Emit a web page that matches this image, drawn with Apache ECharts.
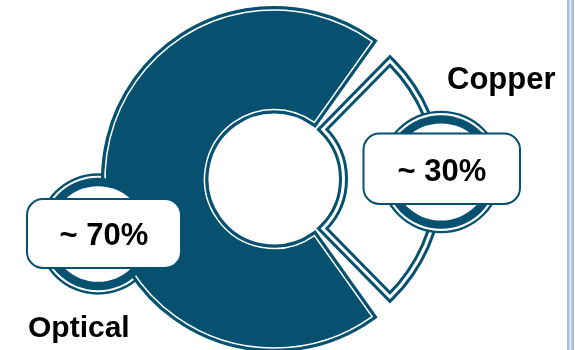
<!DOCTYPE html>
<html>
<head>
<meta charset="utf-8">
<script src="https://cdn.jsdelivr.net/npm/echarts@6/dist/echarts.min.js"></script>
<style>
  html, body { margin: 0; padding: 0; background: #ffffff; }
  #chart { width: 575px; height: 350px; }
</style>
</head>
<body>
<div id="chart"></div>
<script>
// ---- data ----
const categories = ['Optical', 'Copper'];
const shares = [70, 30];
const shareLabels = ['~ 70%', '~ 30%'];

// ---- styling ----
const DARK = '#05516f';
const CX = 274, CY = 179;
const FONT = '"Liberation Sans", Arial, sans-serif';
const CLEAR = 'rgba(0,0,0,0)';

const chart = echarts.init(document.getElementById('chart'), null, { renderer: 'canvas' });

function pieLayer(name, radius, pad, z, styleFor) {
  return {
    type: 'pie',
    name: name,
    center: [CX, CY],
    radius: radius,
    startAngle: 54,
    clockwise: false,
    padAngle: pad,
    z: z,
    silent: true,
    animation: false,
    label: { show: false },
    labelLine: { show: false },
    emphasis: { disabled: true, scale: false },
    data: categories.map((c, i) => ({
      name: c,
      value: shares[i],
      itemStyle: Object.assign({ borderJoin: 'miter', borderMiterLimit: 10 }, styleFor(i))
    }))
  };
}

const series = [
  // Optical slice: dark fill with a double outline
  pieLayer('optBase', [69.5, 169], 1, 2, i => i === 0
    ? { color: DARK, borderColor: DARK, borderWidth: 8 }
    : { color: CLEAR, borderWidth: 0 }),
  pieLayer('optLine', [69.5, 169], 1, 3, i => i === 0
    ? { color: CLEAR, borderColor: '#ffffff', borderWidth: 1.5 }
    : { color: CLEAR, borderWidth: 0 }),
  // Copper slice: white fill with a double outline
  pieLayer('copBase', [69.5, 165.5], 17, 2, i => i === 1
    ? { color: '#ffffff', borderColor: DARK, borderWidth: 9 }
    : { color: CLEAR, borderWidth: 0 }),
  pieLayer('copLine', [69.5, 165.5], 17, 3, i => i === 1
    ? { color: CLEAR, borderColor: '#ffffff', borderWidth: 3 }
    : { color: CLEAR, borderWidth: 0 })
];

function circ(cx, cy, r, fill, z) {
  return { type: 'circle', shape: { cx: cx, cy: cy, r: r }, style: { fill: fill }, z: z, silent: true };
}

const graphics = [
  // right frame line
  { type: 'rect', shape: { x: 567, y: 0, width: 7, height: 350 }, style: { fill: '#a9c0de' }, z: 1, silent: true },
  { type: 'rect', shape: { x: 569.3, y: 0, width: 2, height: 350 }, style: { fill: '#dde6f2' }, z: 1, silent: true },

  // Optical ring: outer double line under the slice, band above it
  circ(98, 234, 60.7, DARK, 0),
  circ(98, 234, 58.3, '#ffffff', 0),
  circ(98, 234, 56.3, DARK, 10),
  circ(98, 234, 47.8, '#ffffff', 10),

  // Copper ring (above copper slice)
  circ(441, 172, 61.3, DARK, 10),
  circ(441, 172, 59, '#ffffff', 10),
  circ(441, 172, 56.8, DARK, 10),
  circ(441, 172, 48.6, '#ffffff', 10),

  // Label boxes
  { type: 'rect', shape: { x: 27, y: 199, width: 154, height: 69, r: 16 },
    style: { fill: '#ffffff', stroke: DARK, lineWidth: 2 }, z: 20, silent: true },
  { type: 'rect', shape: { x: 363.5, y: 133.5, width: 156.5, height: 70.5, r: 16 },
    style: { fill: '#ffffff', stroke: DARK, lineWidth: 2 }, z: 20, silent: true },

  { type: 'text', x: 104, y: 236, z: 21, silent: true,
    style: { text: shareLabels[0], font: 'bold 31px ' + FONT, fill: '#000000', textAlign: 'center', textVerticalAlign: 'middle' } },
  { type: 'text', x: 442, y: 172, z: 21, silent: true,
    style: { text: shareLabels[1], font: 'bold 31px ' + FONT, fill: '#000000', textAlign: 'center', textVerticalAlign: 'middle' } },

  // Category names
  { type: 'text', x: 28, y: 329, z: 21, silent: true,
    style: { text: categories[0], font: 'bold 30px ' + FONT, fill: '#000000', textAlign: 'left', textVerticalAlign: 'middle' } },
  { type: 'text', x: 447, y: 80, z: 21, silent: true,
    style: { text: categories[1], font: 'bold 31px ' + FONT, fill: '#000000', textAlign: 'left', textVerticalAlign: 'middle' } }
];

chart.setOption({
  backgroundColor: '#ffffff',
  animation: false,
  series: series,
  graphic: { elements: graphics }
});
</script>
</body>
</html>
